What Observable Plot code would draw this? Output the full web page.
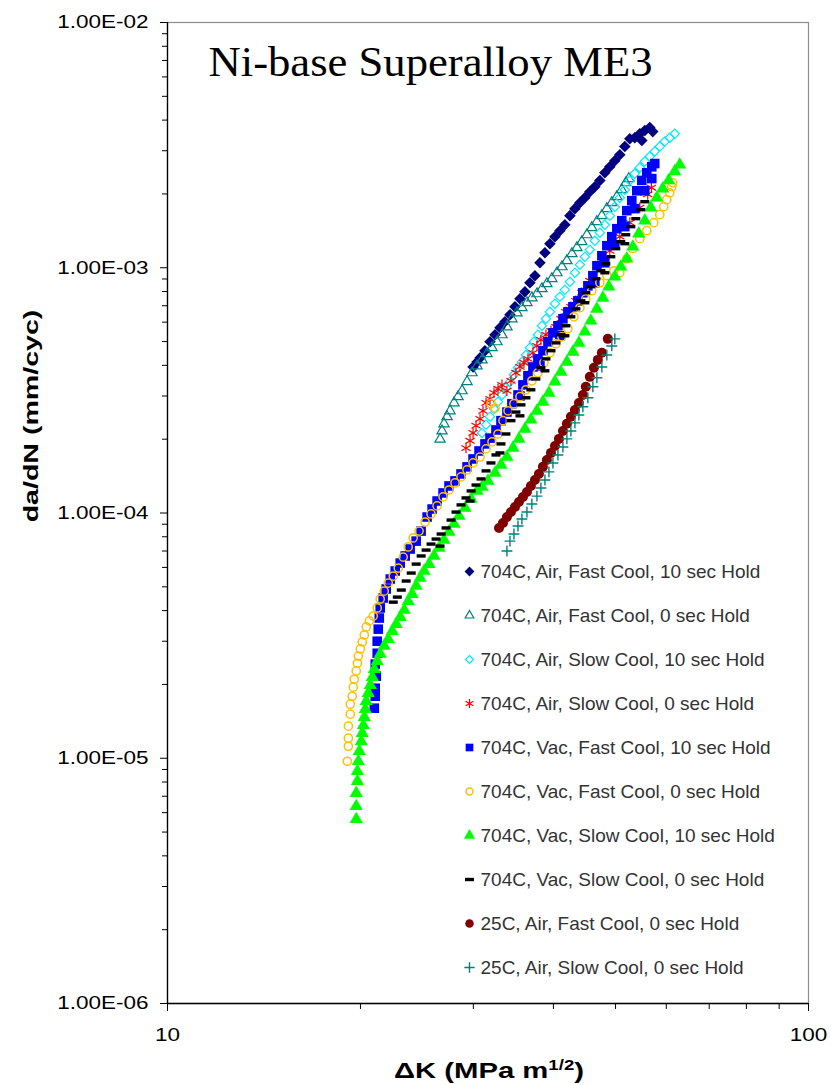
<!DOCTYPE html>
<html><head><meta charset="utf-8">
<script src="https://cdn.jsdelivr.net/npm/d3@7"></script>
<script src="https://cdn.jsdelivr.net/npm/@observablehq/plot@0.6"></script>
<style>
html,body{margin:0;padding:0;background:#fff;}
#wrap{position:relative;width:831px;height:1085px;overflow:hidden;background:#fff;}
#wrap svg{position:absolute;left:0;top:0;}
.atitle{position:absolute;font-family:"Liberation Sans",Arial,sans-serif;font-weight:bold;white-space:nowrap;color:#000;line-height:1;}
.atitle sup{font-size:14px;line-height:0;vertical-align:0.55em;}
</style></head><body><div id="wrap"></div>
<script>
// ---------- data ----------
const seriesNames = [
  "704C, Air, Fast Cool, 10 sec Hold",
  "704C, Air, Fast Cool, 0 sec Hold",
  "704C, Air, Slow Cool, 10 sec Hold",
  "704C, Air, Slow Cool, 0 sec Hold",
  "704C, Vac, Fast Cool, 10 sec Hold",
  "704C, Vac, Fast Cool, 0 sec Hold",
  "704C, Vac, Slow Cool, 10 sec Hold",
  "704C, Vac, Slow Cool, 0 sec Hold",
  "25C, Air, Fast Cool, 0 sec Hold",
  "25C, Air, Slow Cool, 0 sec Hold"
];
const airFast10 = [[29.97,3.94e-4],[30.40,4.13e-4],[30.73,4.29e-4],[31.28,4.59e-4],[31.85,4.99e-4],[32.43,5.33e-4],[33.01,5.69e-4],[33.61,6.02e-4],[34.22,6.43e-4],[34.84,6.93e-4],[35.47,7.47e-4],[36.11,7.98e-4],[36.76,8.69e-4],[37.43,9.28e-4],[38.11,1.048e-3],[38.80,1.152e-3],[39.50,1.253e-3],[40.22,1.339e-3],[40.94,1.416e-3],[41.68,1.498e-3],[42.44,1.631e-3],[43.21,1.742e-3],[43.99,1.842e-3],[44.78,1.931e-3],[45.59,2.04e-3],[46.42,2.14e-3],[47.26,2.27e-3],[48.11,2.44e-3],[48.98,2.58e-3],[49.87,2.73e-3],[50.77,2.89e-3],[51.69,3.12e-3],[52.63,3.36e-3],[53.58,3.39e-3],[54.55,3.52e-3],[55.54,3.63e-3],[56.54,3.73e-3],[57.15,3.59e-3],[54.95,3.30e-3]];
const airFast0 = [[26.62,2.00e-4],[26.81,2.16e-4],[27.00,2.31e-4],[27.30,2.47e-4],[27.59,2.61e-4],[27.99,2.81e-4],[28.40,2.98e-4],[28.81,3.15e-4],[29.33,3.43e-4],[29.86,3.73e-4],[30.40,3.98e-4],[30.95,4.21e-4],[31.51,4.46e-4],[32.08,4.72e-4],[32.66,4.99e-4],[33.25,5.33e-4],[33.85,5.74e-4],[34.46,6.19e-4],[35.09,6.55e-4],[35.72,6.87e-4],[36.37,7.20e-4],[37.02,7.54e-4],[37.70,7.83e-4],[38.38,8.21e-4],[39.07,8.61e-4],[39.78,9.02e-4],[40.51,9.54e-4],[41.24,1.009e-3],[41.98,1.069e-3],[42.75,1.141e-3],[43.52,1.207e-3],[44.30,1.277e-3],[45.11,1.363e-3],[45.92,1.457e-3],[46.75,1.542e-3],[47.60,1.631e-3],[48.46,1.742e-3],[49.33,1.842e-3],[50.23,1.949e-3],[51.13,2.08e-3],[51.87,2.22e-3],[52.44,2.31e-3]];
const airSlow10 = [[30.95,2.12e-4],[31.40,2.29e-4],[31.85,2.47e-4],[32.31,2.66e-4],[32.78,2.84e-4],[33.25,3.03e-4],[33.73,3.24e-4],[34.22,3.43e-4],[34.71,3.66e-4],[35.22,3.91e-4],[35.72,4.13e-4],[36.24,4.41e-4],[36.76,4.72e-4],[37.29,4.99e-4],[37.83,5.33e-4],[38.38,5.80e-4],[38.94,6.19e-4],[39.50,6.61e-4],[40.22,7.13e-4],[40.94,7.61e-4],[41.68,8.13e-4],[42.44,8.77e-4],[43.21,9.54e-4],[43.99,1.029e-3],[44.78,1.109e-3],[45.59,1.184e-3],[46.42,1.289e-3],[47.26,1.390e-3],[48.11,1.498e-3],[48.98,1.631e-3],[49.87,1.774e-3],[50.77,1.931e-3],[51.69,2.08e-3],[52.63,2.27e-3],[53.58,2.42e-3],[54.55,2.56e-3],[55.54,2.71e-3],[56.54,2.84e-3],[57.56,2.98e-3],[58.61,3.12e-3],[59.67,3.27e-3],[60.75,3.39e-3],[61.85,3.52e-3]];
const airSlow0 = [[29.22,1.84e-4],[29.65,1.97e-4],[29.97,2.12e-4],[30.29,2.27e-4],[30.73,2.42e-4],[31.06,2.61e-4],[31.40,2.81e-4],[31.85,2.92e-4],[32.31,3.09e-4],[32.78,3.21e-4],[33.25,3.33e-4],[33.85,3.15e-4],[34.34,3.46e-4],[34.96,3.73e-4],[35.47,3.94e-4],[35.98,4.10e-4],[36.50,4.25e-4],[37.16,4.50e-4],[37.70,4.80e-4],[38.24,5.08e-4],[38.94,5.33e-4],[39.65,5.53e-4],[40.36,5.74e-4],[41.09,6.19e-4],[41.83,6.61e-4],[42.59,6.93e-4],[43.36,7.33e-4],[44.30,7.91e-4],[45.59,8.85e-4],[47.26,1.038e-3],[48.98,1.172e-3],[50.77,1.339e-3],[52.63,1.527e-3],[54.55,1.758e-3],[56.13,1.99e-3],[56.88,2.12e-3]];
const vacFast10 = [[21.02,1.60e-5],[21.09,1.79e-5],[21.09,1.93e-5],[21.17,2.16e-5],[21.09,2.42e-5],[21.24,2.68e-5],[21.24,3.00e-5],[21.32,3.36e-5],[21.40,3.73e-5],[21.47,4.10e-5],[21.70,4.50e-5],[21.94,4.90e-5],[22.26,5.38e-5],[22.66,5.80e-5],[23.07,6.25e-5],[23.49,6.68e-5],[23.91,7.13e-5],[24.43,7.68e-5],[24.87,8.44e-5],[25.41,9.63e-5],[25.87,1.038e-4],[26.34,1.119e-4],[26.91,1.207e-4],[27.49,1.289e-4],[28.09,1.352e-4],[28.70,1.443e-4],[29.33,1.542e-4],[29.97,1.661e-4],[30.62,1.79e-4],[31.28,1.913e-4],[31.85,2.02e-4],[32.54,2.18e-4],[33.13,2.38e-4],[33.85,2.58e-4],[34.46,2.79e-4],[35.22,3.03e-4],[35.85,3.33e-4],[36.50,3.63e-4],[37.16,3.94e-4],[37.83,4.25e-4],[38.52,4.59e-4],[39.22,4.99e-4],[39.93,5.43e-4],[40.65,5.80e-4],[41.39,6.19e-4],[42.14,6.61e-4],[42.90,6.93e-4],[43.67,7.33e-4],[44.46,7.91e-4],[45.27,8.44e-4],[46.09,9.28e-4],[46.76,1.019e-3],[47.60,1.119e-3],[48.46,1.230e-3],[49.33,1.339e-3],[50.23,1.443e-3],[51.13,1.555e-3],[52.06,1.709e-3],[53.01,1.877e-3],[53.96,2.06e-3],[54.95,2.27e-3],[55.94,2.44e-3],[56.95,2.58e-3],[57.56,2.66e-3],[46.42,8.69e-4],[48.11,1.048e-3],[49.87,1.241e-3],[51.69,1.471e-3],[53.58,1.742e-3],[55.54,2.06e-3],[56.95,2.31e-3],[40.94,5.28e-4],[38.11,3.98e-4],[35.47,3.00e-4]];
const vacFast0 = [[19.08,9.72e-6],[19.15,1.119e-5],[19.15,1.207e-5],[19.15,1.352e-5],[19.28,1.513e-5],[19.28,1.661e-5],[19.42,1.79e-5],[19.49,1.949e-5],[19.56,2.10e-5],[19.70,2.27e-5],[19.78,2.44e-5],[19.85,2.61e-5],[19.99,2.79e-5],[20.13,2.98e-5],[20.28,3.18e-5],[20.42,3.43e-5],[20.65,3.63e-5],[20.94,3.80e-5],[21.24,4.10e-5],[21.47,4.46e-5],[21.78,4.80e-5],[22.10,5.18e-5],[22.50,5.53e-5],[22.91,5.96e-5],[23.32,6.61e-5],[23.74,7.27e-5],[24.17,7.91e-5],[24.69,8.44e-5],[25.23,9.19e-5],[25.77,9.91e-5],[26.34,1.069e-4],[26.91,1.163e-4],[27.49,1.241e-4],[28.09,1.326e-4],[28.70,1.403e-4],[29.33,1.498e-4],[29.97,1.600e-4],[30.73,1.692e-4],[31.40,1.825e-4],[32.08,1.949e-4],[32.78,2.10e-4],[33.37,2.38e-4],[33.98,2.61e-4],[34.71,2.79e-4],[35.47,2.98e-4],[36.24,3.18e-4],[37.02,3.46e-4],[37.83,3.73e-4],[38.66,4.10e-4],[39.50,4.50e-4],[40.36,4.90e-4],[41.24,5.23e-4],[42.14,5.64e-4],[43.05,6.31e-4],[43.99,6.87e-4],[44.94,7.47e-4],[45.92,8.06e-4],[47.26,8.69e-4],[48.46,9.28e-4],[49.69,9.72e-4],[50.77,9.54e-4],[52.06,1.088e-3],[53.20,1.196e-3],[54.55,1.314e-3],[55.94,1.416e-3],[57.36,1.527e-3],[58.61,1.646e-3],[59.45,1.774e-3],[60.09,1.895e-3],[60.75,2.02e-3],[61.19,2.14e-3],[61.41,2.22e-3],[31.96,2.79e-4],[32.43,2.68e-4]];
const vacSlow10 = [[19.70,5.64e-6],[19.70,6.37e-6],[19.70,7.20e-6],[19.78,8.06e-6],[19.78,8.85e-6],[19.85,9.72e-6],[19.92,1.069e-5],[20.06,1.172e-5],[20.13,1.265e-5],[20.21,1.363e-5],[20.28,1.471e-5],[20.35,1.585e-5],[20.42,1.709e-5],[20.57,1.842e-5],[20.72,1.986e-5],[20.87,2.14e-5],[21.02,2.31e-5],[21.24,2.49e-5],[21.47,2.66e-5],[21.78,2.87e-5],[22.10,3.06e-5],[22.42,3.30e-5],[22.74,3.52e-5],[23.07,3.76e-5],[23.41,4.02e-5],[23.74,4.37e-5],[24.08,4.67e-5],[24.43,5.04e-5],[24.78,5.43e-5],[25.14,5.80e-5],[25.59,6.19e-5],[26.05,6.68e-5],[26.53,7.20e-5],[27.00,7.76e-5],[27.49,8.37e-5],[27.99,9.02e-5],[28.50,9.72e-5],[29.12,1.048e-4],[29.76,1.141e-4],[30.40,1.230e-4],[30.95,1.277e-4],[31.62,1.352e-4],[32.43,1.457e-4],[33.13,1.570e-4],[33.85,1.692e-4],[34.59,1.842e-4],[35.34,2.005e-4],[36.11,2.20e-4],[36.89,2.40e-4],[37.70,2.61e-4],[38.52,2.84e-4],[39.36,3.09e-4],[40.22,3.43e-4],[41.09,3.76e-4],[41.98,4.13e-4],[42.90,4.54e-4],[43.83,4.94e-4],[44.78,5.48e-4],[45.75,6.08e-4],[46.75,6.80e-4],[47.77,7.54e-4],[48.81,8.37e-4],[49.87,9.19e-4],[50.95,1.009e-3],[52.06,1.088e-3],[53.20,1.218e-3],[54.35,1.377e-3],[55.54,1.555e-3],[56.75,1.758e-3],[57.98,1.931e-3],[59.24,2.10e-3],[60.53,2.27e-3],[61.85,2.47e-3],[62.96,2.63e-3]];
const vacSlow0 = [[22.50,4.33e-5],[22.83,4.54e-5],[23.16,4.85e-5],[23.57,5.28e-5],[24.00,5.69e-5],[24.43,6.19e-5],[24.87,6.68e-5],[25.32,7.06e-5],[25.77,7.47e-5],[26.24,7.83e-5],[26.72,8.21e-5],[27.20,8.69e-5],[27.69,9.36e-5],[28.19,1.009e-4],[28.70,1.079e-4],[29.22,1.152e-4],[29.76,1.230e-4],[30.29,1.300e-4],[30.84,1.377e-4],[31.40,1.485e-4],[31.96,1.600e-4],[32.54,1.725e-4],[33.13,1.913e-4],[33.73,2.10e-4],[34.34,2.38e-4],[34.96,2.58e-4],[35.60,2.76e-4],[36.24,2.95e-4],[36.89,3.18e-4],[37.56,3.52e-4],[38.24,3.91e-4],[38.94,4.25e-4],[39.65,4.59e-4],[40.36,4.94e-4],[41.09,5.33e-4],[41.83,5.80e-4],[42.59,6.31e-4],[43.36,6.80e-4],[44.15,7.33e-4],[44.94,7.91e-4],[45.75,8.37e-4],[46.59,9.02e-4],[47.43,9.72e-4],[48.29,1.038e-3],[49.16,1.109e-3],[50.05,1.196e-3],[50.95,1.277e-3],[51.87,1.363e-3],[52.82,1.471e-3],[53.77,1.585e-3],[54.75,1.725e-3],[55.54,1.859e-3],[26.62,7.33e-5],[29.65,1.119e-4],[33.01,1.758e-4],[35.47,2.49e-4],[38.80,3.80e-4],[41.68,5.28e-4],[44.78,7.20e-4],[48.11,9.54e-4],[51.69,1.253e-3]];
const rtFast0 = [[32.90,8.69e-5],[33.37,9.10e-5],[33.85,9.63e-5],[34.34,1.009e-4],[34.84,1.058e-4],[35.34,1.109e-4],[35.85,1.163e-4],[36.37,1.218e-4],[36.89,1.289e-4],[37.43,1.363e-4],[37.97,1.443e-4],[38.52,1.542e-4],[39.07,1.646e-4],[39.65,1.758e-4],[40.22,1.877e-4],[40.80,2.005e-4],[41.39,2.16e-4],[41.98,2.31e-4],[42.59,2.47e-4],[43.21,2.63e-4],[43.83,2.81e-4],[44.46,3.03e-4],[44.94,3.27e-4],[45.59,3.59e-4],[46.26,3.91e-4],[46.92,4.21e-4],[47.60,4.50e-4],[48.63,5.13e-4]];
const rtSlow0 = [[33.85,7.00e-5],[34.22,7.68e-5],[34.71,8.21e-5],[35.22,8.85e-5],[35.72,9.45e-5],[36.37,1.009e-4],[37.02,1.088e-4],[37.70,1.172e-4],[38.24,1.265e-4],[38.80,1.363e-4],[39.36,1.471e-4],[39.93,1.600e-4],[40.65,1.725e-4],[41.39,1.859e-4],[41.98,2.005e-4],[42.59,2.16e-4],[43.21,2.33e-4],[43.83,2.51e-4],[44.46,2.71e-4],[45.27,2.95e-4],[46.09,3.27e-4],[46.76,3.56e-4],[47.60,3.94e-4],[48.46,4.41e-4],[49.33,4.80e-4],[49.87,5.13e-4]];

const xMajorTicks = [10, 100];
const xMinorTicks = [20, 30, 40, 50, 60, 70, 80, 90];
const yMajorTicks = [1e-6, 1e-5, 1e-4, 1e-3, 1e-2];
const titleText = "Ni-base Superalloy ME3";

// ---------- build ----------
const seriesData = [airFast10, airFast0, airSlow10, airSlow0, vacFast10, vacFast0, vacSlow10, vacSlow0, rtFast0, rtSlow0];
const rows = seriesData.flatMap((arr, i) => arr.map(([K, dadn]) => ({K, dadn, series: seriesNames[i]})));
const yMinorTicks = [];
for (const d of yMajorTicks.slice(0, -1)) for (let m = 2; m <= 9; m++) yMinorTicks.push(d * m);

const dashSymbol = {draw(ctx, size) { ctx.rect(-4.5, -1.7, 9, 3.4); }};
const styles = [
  {symbol: "diamond2", fill: "#000080", stroke: "none", r: 5.2},
  {symbol: "triangle2", fill: "none", stroke: "#008080", r: 4.9, strokeWidth: 1.2},
  {symbol: "diamond2", fill: "none", stroke: "#00E8FF", r: 4.2, strokeWidth: 1.2},
  {symbol: "asterisk", fill: "none", stroke: "#FF0000", r: 5, strokeWidth: 1.2},
  {symbol: "square", fill: "#0000FF", stroke: "none", r: 5.4},
  {symbol: "circle", fill: "none", stroke: "#FFC000", r: 4.1, strokeWidth: 1.5},
  {symbol: "triangle", fill: "#00FF00", stroke: "none", r: 4.9},
  {symbol: dashSymbol, fill: "#000000", stroke: "none", r: 3},
  {symbol: "circle", fill: "#800000", stroke: "none", r: 5},
  {symbol: "plus", fill: "none", stroke: "#008080", r: 3.6, strokeWidth: 1.4}
];
const legendScale = [0.85, 0.85, 0.85, 0.85, 0.8, 0.85, 0.85, 0.85, 0.85, 0.95];

const fmtE = d => {
  const [m, e] = d.toExponential(2).split("e");
  const n = Math.abs(+e);
  return `${m}E${+e < 0 ? "-" : "+"}${String(n).padStart(2, "0")}`;
};

const seriesMarks = seriesNames.map((name, i) => {
  const s = styles[i];
  return Plot.dot(rows.filter(d => d.series === name), {
    x: "K", y: "dadn", symbol: () => s.symbol, r: s.r,
    fill: s.fill, stroke: s.stroke, strokeWidth: s.strokeWidth ?? 1
  });
});

const chart = Plot.plot({
  width: 831, height: 1085,
  marginLeft: 167, marginRight: 23, marginTop: 22, marginBottom: 82,
  style: {fontFamily: "'Liberation Sans', Arial, sans-serif", fontSize: "18px", background: "#fff", color: "#000"},
  x: {type: "log", domain: [10, 100], label: null},
  y: {type: "log", domain: [1e-6, 1e-2], label: null},
  symbol: {type: "identity"},
  marks: [
    Plot.frame({stroke: "#8c8c8c", strokeWidth: 1.2}),
    Plot.ruleX([10], {stroke: "#000", strokeWidth: 1.3}),
    Plot.ruleY([1e-6], {stroke: "#000", strokeWidth: 1.3}),
    Plot.axisY({ticks: yMinorTicks, tickSize: 5, tickFormat: () => "", label: null, stroke: "#000"}),
    Plot.axisY({ticks: yMajorTicks, tickSize: 7, tickPadding: 12, tickFormat: fmtE, label: null, stroke: "#000"}),
    Plot.axisX({ticks: xMinorTicks, tickSize: 6, tickFormat: () => "", label: null, stroke: "#000"}),
    Plot.axisX({ticks: xMajorTicks, tickSize: 8, tickPadding: 17, tickFormat: d => String(d), label: null, stroke: "#000"}),
    ...seriesMarks,
    Plot.text([titleText], {frameAnchor: "top-left", dx: 41, dy: 53, lineAnchor: "bottom", textAnchor: "start",
      fontFamily: "'Liberation Serif', 'Times New Roman', serif", fontSize: 42, fill: "#000"})
  ]
});

const legend = Plot.plot({
  width: 380, height: 440, margin: 0,
  style: {fontFamily: "'Liberation Sans', Arial, sans-serif", fontSize: "19px", background: "transparent"},
  x: {domain: [0, 1], range: [29, 370], axis: null},
  y: {type: "point", domain: seriesNames, range: [22, 418], padding: 0, axis: null},
  symbol: {type: "identity"},
  marks: [
    ...seriesNames.map((name, i) => {
      const s = styles[i];
      return Plot.dot([name], {x: () => 0, y: d => d, symbol: () => s.symbol, r: s.r * legendScale[i],
        fill: s.fill, stroke: s.stroke, strokeWidth: s.strokeWidth ?? 1});
    }),
    Plot.text(seriesNames, {x: () => 0, y: d => d, text: d => d, dx: 11, textAnchor: "start", fill: "#333"})
  ]
});

const wrap = document.getElementById("wrap");
wrap.appendChild(chart);
legend.style.left = "440px"; legend.style.top = "549px";
wrap.appendChild(legend);

const xt = document.createElement("div");
xt.className = "atitle";
xt.style.fontSize = "22px";
xt.innerHTML = "&Delta;K (MPa m<sup>1/2</sup>)";
xt.style.left = "489px"; xt.style.top = "1071px";
xt.style.transform = "translate(-50%,-50%) scaleX(1.33)";
wrap.appendChild(xt);

const yt = document.createElement("div");
yt.className = "atitle";
yt.style.fontSize = "21px";
yt.textContent = "da/dN (mm/cyc)";
yt.style.left = "30px"; yt.style.top = "416px";
yt.style.transform = "translate(-50%,-50%) rotate(-90deg) scaleX(1.36)";
wrap.appendChild(yt);

// stretch texts horizontally like the reference image
function stretch(sel, k) {
  sel.each(function() {
    const L = this.getComputedTextLength();
    if (L > 0) { this.setAttribute("textLength", L * k); this.setAttribute("lengthAdjust", "spacingAndGlyphs"); }
  });
}
stretch(d3.select(chart).selectAll("g[aria-label='y-axis tick label'] text, g[aria-label='x-axis tick label'] text"), 1.25);
d3.select(chart).selectAll("g[aria-label='text'] text").each(function() {
  const L = this.getComputedTextLength();
  if (L > 0) { this.setAttribute("textLength", 444); this.setAttribute("lengthAdjust", "spacingAndGlyphs"); }
});
</script></body></html>
